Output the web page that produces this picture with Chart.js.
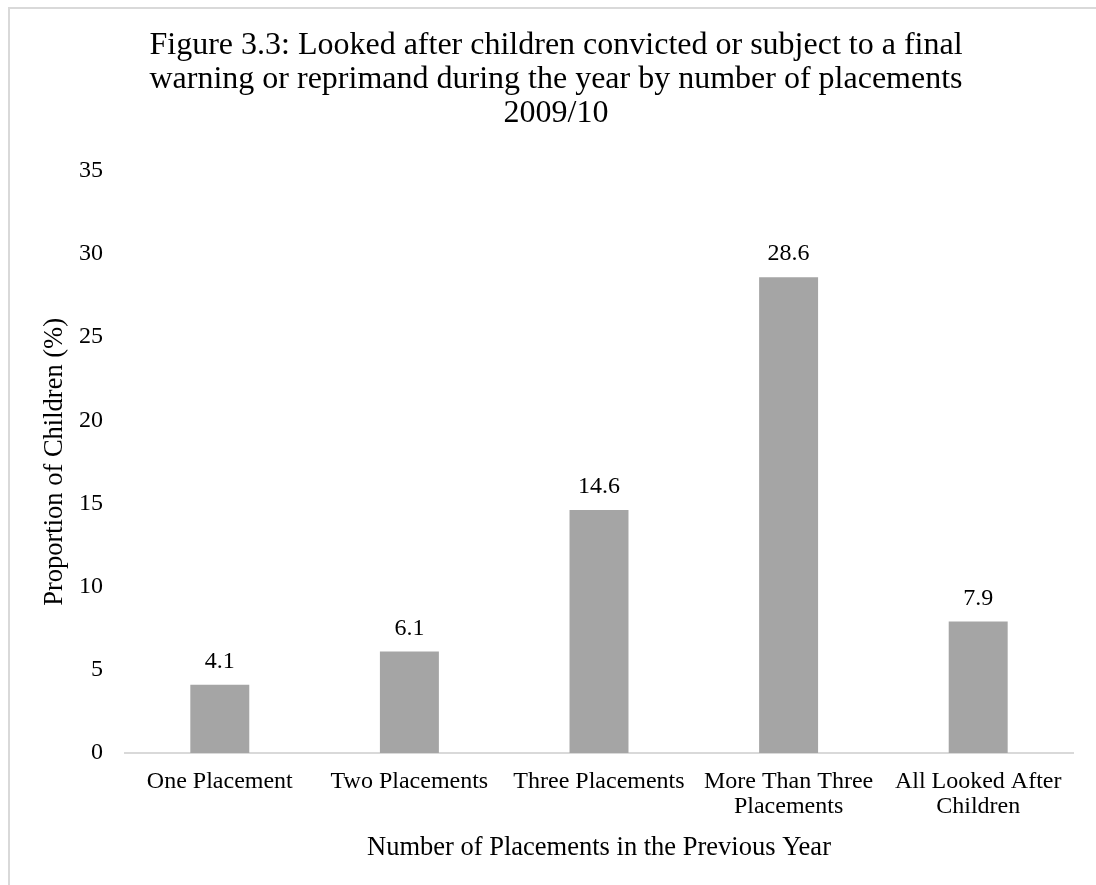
<!DOCTYPE html>
<html>
<head>
<meta charset="utf-8">
<script src="https://cdn.jsdelivr.net/npm/chart.js@4.4.1/dist/chart.umd.min.js"></script>
<style>
  html, body { margin: 0; padding: 0; background: #ffffff; overflow: hidden; }
  #frame { position: absolute; left: 8px; top: 7px; width: 2000px; height: 2000px;
           border-left: 2px solid #d9d9d9; border-top: 2px solid #d9d9d9; }
  #wrap { position: absolute; left: 0; top: 0; width: 1096px; height: 885px; }
</style>
</head>
<body>
<div id="frame"></div>
<div id="wrap"><canvas id="c" width="1096" height="885"></canvas></div>
<script>
const categories = [
  "One Placement",
  "Two Placements",
  "Three Placements",
  ["More Than Three", "Placements"],
  ["All Looked After", "Children"]
];
const values = [4.1, 6.1, 14.6, 28.6, 7.9];
const yTicks = [0, 5, 10, 15, 20, 25, 30, 35];
const titleLines = [
  "Figure 3.3: Looked after children convicted or subject to a final",
  "warning or reprimand during the year by number of placements",
  "2009/10"
];
const xTitle = "Number of Placements in the Previous Year";
const yTitle = "Proportion of Children (%)";

const SERIF = "'Liberation Serif', 'Times New Roman', serif";

const valueLabels = {
  id: 'valueLabels',
  afterDatasetsDraw(chart) {
    const ctx = chart.ctx;
    const meta = chart.getDatasetMeta(0);
    ctx.save();
    ctx.font = "24px " + SERIF;
    ctx.fillStyle = "#000000";
    ctx.textAlign = "center";
    ctx.textBaseline = "alphabetic";
    meta.data.forEach((bar, i) => {
      ctx.fillText(values[i].toFixed(1), bar.x, bar.y - 17);
    });
    ctx.restore();
  }
};

new Chart(document.getElementById('c'), {
  type: 'bar',
  data: {
    labels: categories,
    datasets: [{
      data: values,
      backgroundColor: '#a5a5a5',
      borderWidth: 0,
      barPercentage: 0.311,
      categoryPercentage: 1.0
    }]
  },
  plugins: [valueLabels],
  options: {
    responsive: false,
    animation: false,
    devicePixelRatio: 1,
    layout: { padding: { top: 8, bottom: 0, left: 39, right: 23 } },
    plugins: {
      legend: { display: false },
      tooltip: { enabled: false },
      title: {
        display: true,
        text: titleLines,
        color: '#000000',
        font: { family: SERIF, size: 32, weight: 'normal', lineHeight: 1.06 },
        padding: { top: 21, bottom: 40 }
      }
    },
    scales: {
      x: {
        grid: { display: true, color: 'rgba(0,0,0,0)', drawTicks: false },
        border: { display: true, color: '#d9d9d9', width: 2 },
        ticks: {
          color: '#000000',
          font: { family: SERIF, size: 24, lineHeight: 1.04 },
          padding: 16,
          maxRotation: 0,
          autoSkip: false
        },
        title: {
          display: true,
          text: xTitle,
          color: '#000000',
          font: { family: SERIF, size: 26.5, lineHeight: 1.2 },
          padding: { top: 0, bottom: 21 }
        },
        afterFit(scale) { scale.height = 132; }
      },
      y: {
        min: 0,
        max: 35,
        afterBuildTicks(scale) { scale.ticks = yTicks.map(v => ({ value: v })); },
        grid: { display: false, drawTicks: false },
        border: { display: false },
        ticks: {
          color: '#000000',
          font: { family: SERIF, size: 24 },
          padding: 22
        },
        title: {
          display: true,
          text: yTitle,
          color: '#000000',
          font: { family: SERIF, size: 26.5, lineHeight: 1.2 },
          padding: { top: 0, bottom: 0 }
        },
        afterFit(scale) { scale.width = 86; }
      }
    }
  }
});
</script>
</body>
</html>
